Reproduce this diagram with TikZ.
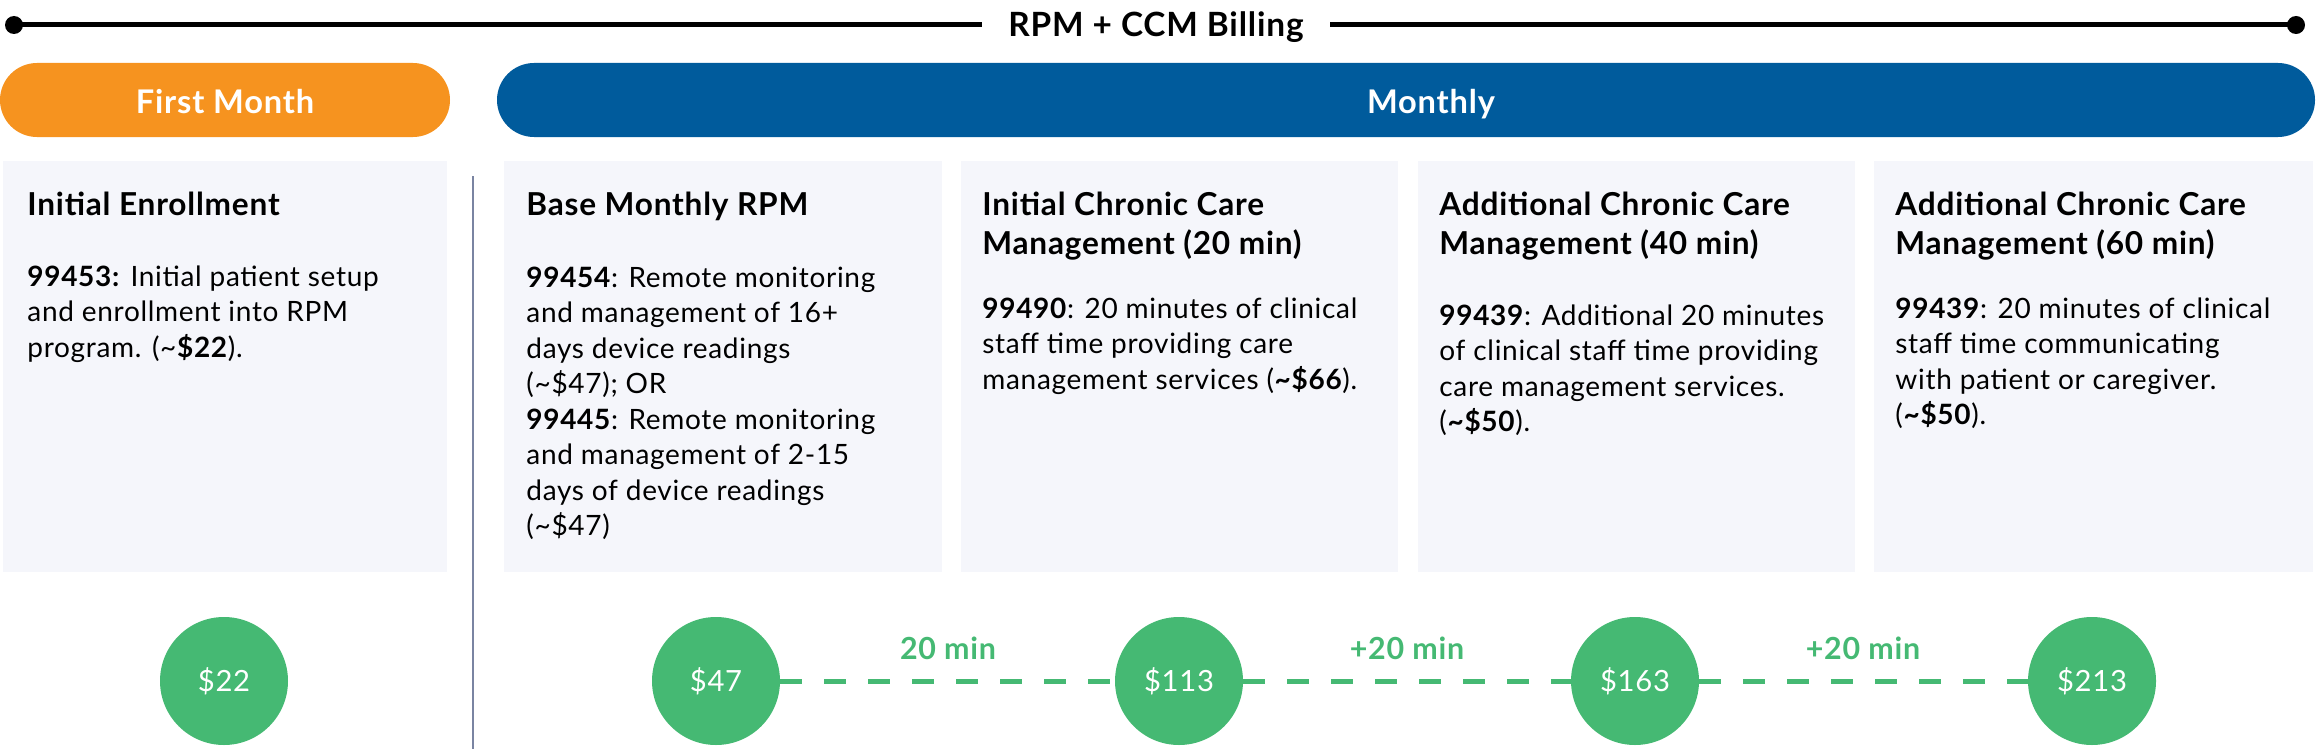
\documentclass[tikz,border=0pt]{standalone}
\usepackage{fontspec}
\setmainfont{Lato}[LetterSpace=2.5]
\usetikzlibrary{shapes.misc}
\definecolor{orangeP}{HTML}{F6931F}
\definecolor{blueP}{HTML}{005B9C}
\definecolor{greenC}{HTML}{45B973}
\definecolor{cardF}{HTML}{F5F6FB}
\definecolor{divC}{HTML}{7A84A2}
\newcommand{\cardtxt}[1]{\vtop{\hsize=230pt\parindent=0pt\raggedright #1\par}}
\tikzset{
  pill/.style={rounded rectangle, inner sep=0pt, minimum height=37pt},
  pilltxt/.style={text=white, font=\fontsize{16.3}{19}\selectfont\bfseries, anchor=base, inner sep=0pt},
  card/.style={fill=cardF, draw=none},
  ctitle/.style={anchor=base west, inner sep=0pt, font=\fontsize{15.8}{19.6}\selectfont\bfseries},
  cbody/.style={anchor=base west, inner sep=0pt, font=\fontsize{14}{17.75}\selectfont},
  coin/.style={circle, fill=greenC, minimum size=64pt, inner sep=0pt, text=white, font=\fontsize{14.6}{18}\selectfont},
  link/.style={draw=greenC, line width=2.5pt, dash pattern=on 11pt off 11pt, dash phase=12pt},
  linklbl/.style={text=greenC, font=\fontsize{15.2}{17}\selectfont\bfseries, anchor=base, inner sep=0pt},
  dot/.style={circle, fill=black, inner sep=0pt, minimum size=9pt}
}
\begin{document}
\begin{tikzpicture}[x=0.5pt, y=-0.5pt]
\useasboundingbox (0,0) rectangle (2316,749);
% top rule
\node[dot] (dl) at (14,25) {};
\node[dot] (dr) at (2296,25) {};
\node[inner xsep=13pt, inner ysep=0pt, anchor=base, font=\fontsize{16.7}{20}\selectfont\bfseries] (title) at (1156,37) {RPM + CCM Billing};
\draw[line width=2.5pt] (dl.center) -- (title.west |- dl.center);
\draw[line width=2.5pt] (title.east |- dr.center) -- (dr.center);
% pills
\node[pill, fill=orangeP, minimum width=225pt] (p1) at (225,100) {};
\node[pill, fill=blueP, minimum width=909pt] (p2) at (1406,100) {};
\node[pilltxt] (p1t) at (225,113) {First Month};
\node[pilltxt] (p2t) at (1431,113) {Monthly};
% cards
\fill[card] (3,161) rectangle (447,572);
\fill[card] (504,161) rectangle (942,572);
\fill[card] (961,161) rectangle (1398,572);
\fill[card] (1418,161) rectangle (1855,572);
\fill[card] (1874,161) rectangle (2313,572);
% divider
\coordinate (dvt) at (473,176);
\coordinate (dvb) at (473,749);
\draw[divC, line width=1.2pt] (dvt) -- (dvb);
% card texts
\node[ctitle] (t1) at (27,215) {Initial Enrollment};
\node[cbody] (b1) at (27,286) {\cardtxt{\textbf{99453:} Initial patient setup\\ and enrollment into RPM\\ program. (\textasciitilde\textbf{\$22}).}};
\node[ctitle] (t2) at (526,215) {Base Monthly RPM};
\node[cbody] (b2) at (526,287) {\cardtxt{\textbf{99454}: Remote monitoring\\ and management of 16+\\ days device readings\\ (\textasciitilde\$47); OR\\ \textbf{99445}: Remote monitoring\\ and management of 2-15\\ days of device readings\\ (\textasciitilde\$47)}};
\node[ctitle] (t3) at (982,215) {\cardtxt{Initial Chronic Care\\ Management (20 min)}};
\node[cbody] (b3) at (982,318) {\cardtxt{\textbf{99490}: 20 minutes of clinical\\ staff time providing care\\ management services (\textbf{\textasciitilde\$66}).}};
\node[ctitle] (t4) at (1439,215) {\cardtxt{Additional Chronic Care\\ Management (40 min)}};
\node[cbody] (b4) at (1439,325) {\cardtxt{\textbf{99439}: Additional 20 minutes\\ of clinical staff time providing\\ care management services.\\ (\textbf{\textasciitilde\$50}).}};
\node[ctitle] (t5) at (1895,215) {\cardtxt{Additional Chronic Care\\ Management (60 min)}};
\node[cbody] (b5) at (1895,318) {\cardtxt{\textbf{99439}: 20 minutes of clinical\\ staff time communicating\\ with patient or caregiver.\\ (\textbf{\textasciitilde\$50}).}};
% coins
\path (716,681) coordinate (c2p) (1179,681) coordinate (c3p) (1635,681) coordinate (c4p) (2092,681) coordinate (c5p);
\draw[link] (c2p) -- (c3p);
\draw[link] (c3p) -- (c4p);
\draw[link] (c4p) -- (c5p);
\node[coin] (c1) at (224,681) {\$22};
\node[coin] (c2) at (c2p) {\$47};
\node[coin] (c3) at (c3p) {\$113};
\node[coin] (c4) at (c4p) {\$163};
\node[coin] (c5) at (c5p) {\$213};
\node[linklbl] (l1) at (948,659) {20 min};
\node[linklbl] (l2) at (1407,659) {+20 min};
\node[linklbl] (l3) at (1863,659) {+20 min};
\end{tikzpicture}
\end{document}
